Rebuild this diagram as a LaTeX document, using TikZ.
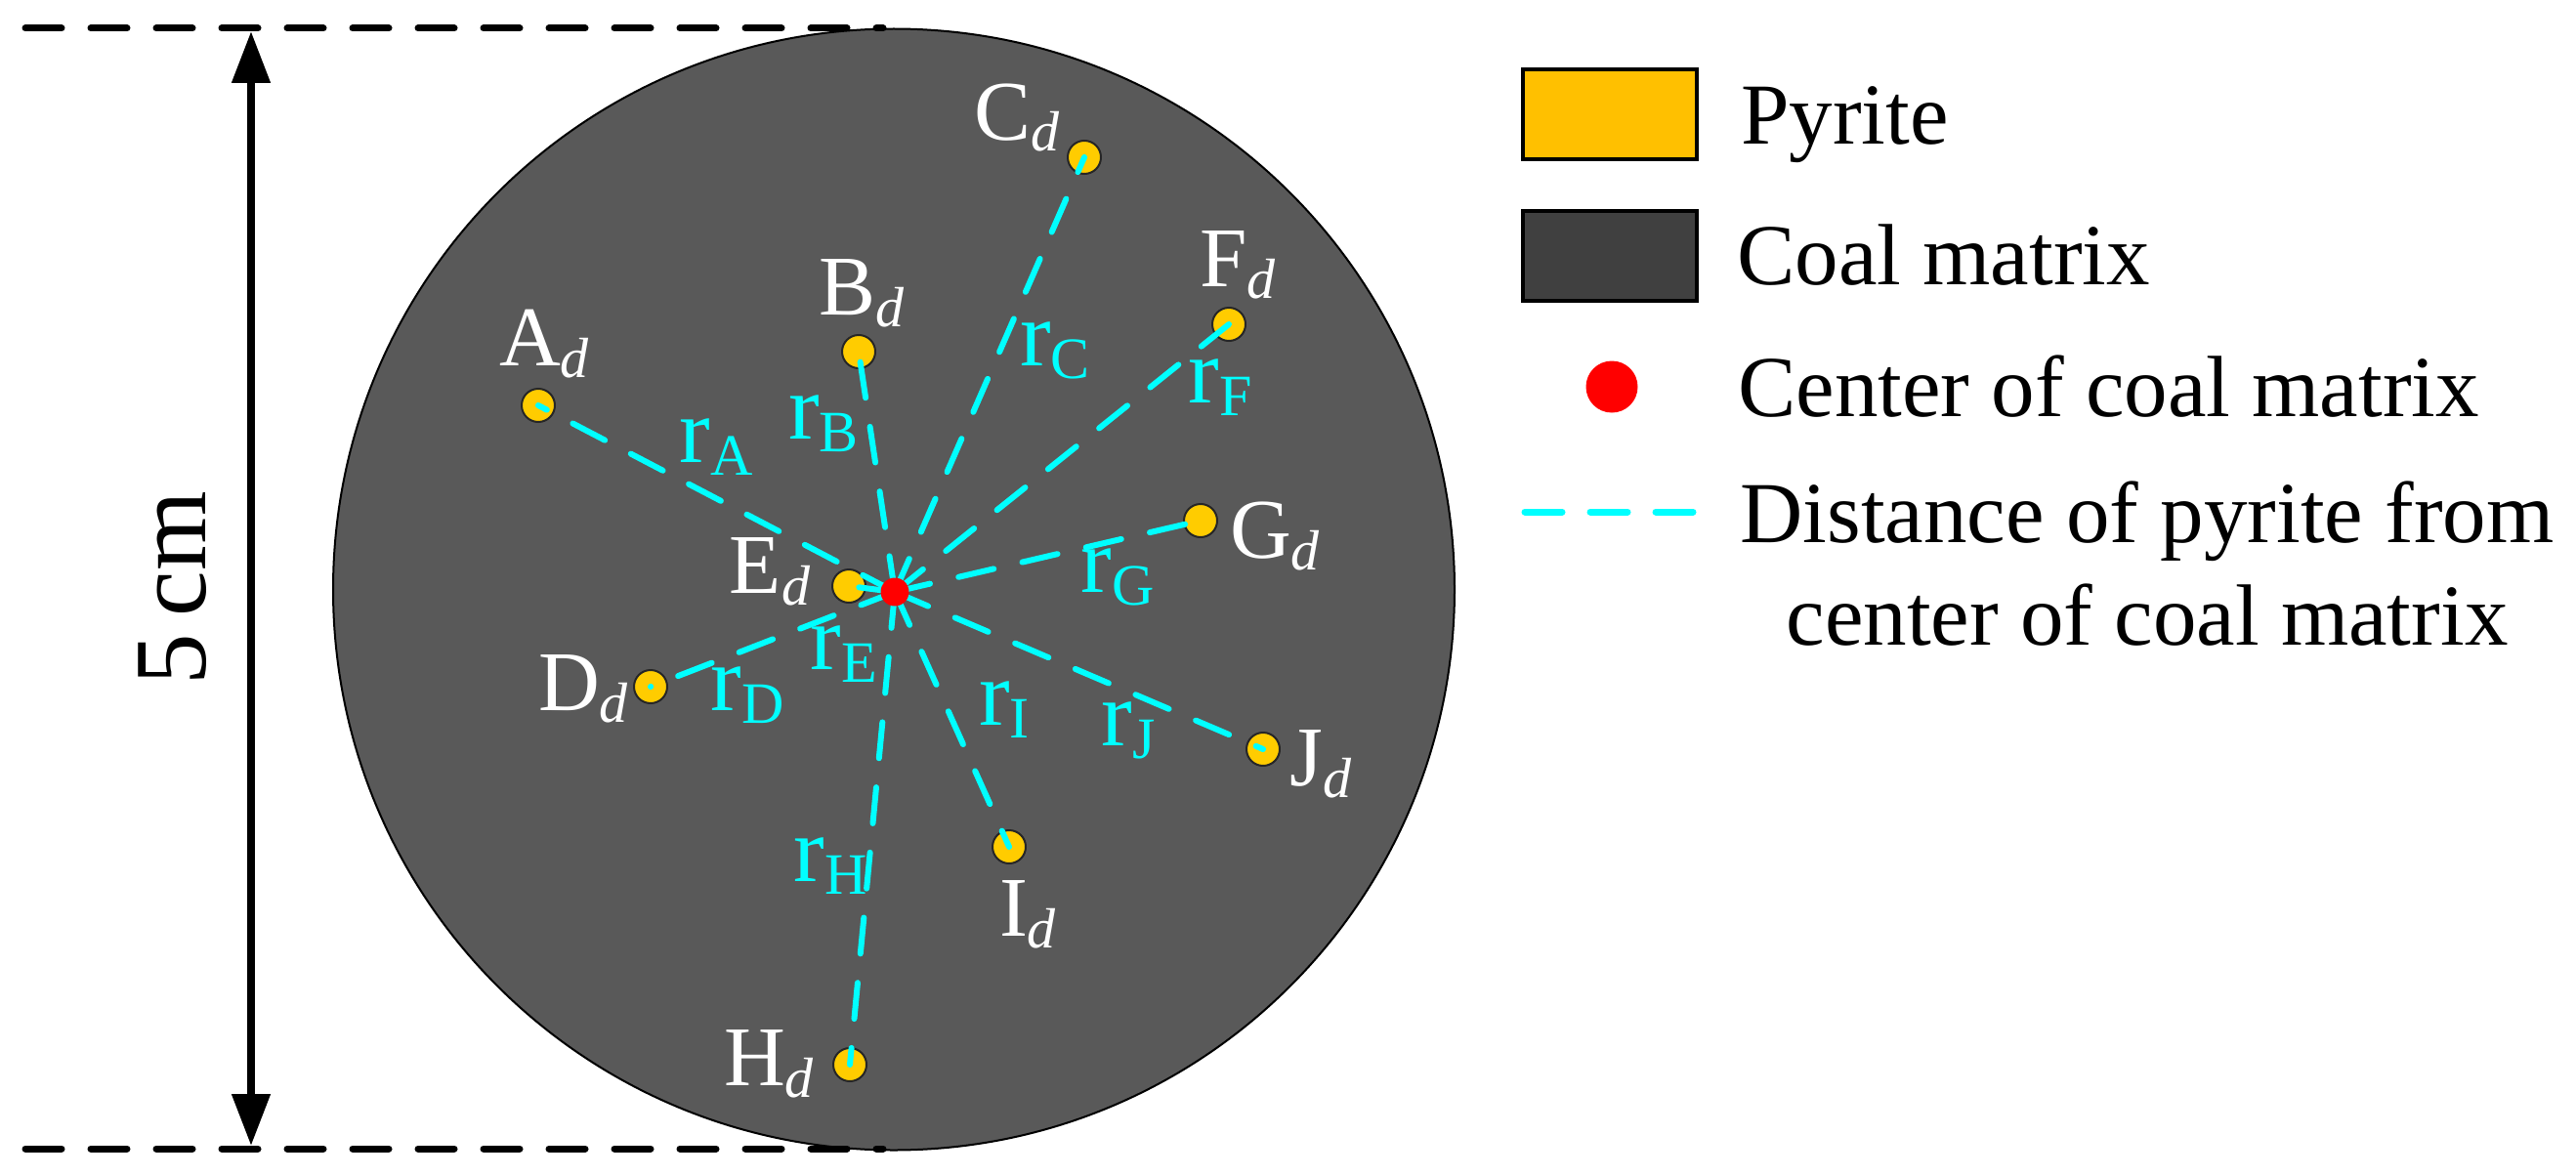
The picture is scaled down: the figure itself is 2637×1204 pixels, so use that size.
\documentclass[tikz,border=0pt]{standalone}
\usepackage{fontspec}
\setmainfont{Liberation Serif}
\usetikzlibrary{arrows.meta}
\definecolor{coal}{HTML}{595959}
\definecolor{coalleg}{HTML}{404040}
\definecolor{pyr}{HTML}{FFCC00}
\definecolor{pyrleg}{HTML}{FFC000}
\definecolor{cy}{HTML}{00FFFF}
\newcommand{\pyrlab}[1]{{\fontsize{87}{87}\selectfont #1}\raisebox{-12pt}{\fontsize{58}{58}\selectfont\itshape d}}
\newcommand{\rlab}[1]{{\fontsize{95}{95}\selectfont r}\raisebox{-13pt}{\fontsize{60}{60}\selectfont #1}}
\begin{document}
\begin{tikzpicture}[x=1pt,y=-1pt,
 pdot/.style={circle,fill=pyr,draw=black!85,line width=2pt,minimum size=34pt,inner sep=0},
 cdot/.style={circle,fill=red,inner sep=0,minimum size=29pt},
 rline/.style={cy,line width=6pt,line cap=round,dash pattern=on 37pt off 30pt},
 plab/.style={text=white,inner sep=0,anchor=base},
 rl/.style={text=cy,inner sep=0,anchor=base},
 legtext/.style={inner sep=0,anchor=base west,font=\fontsize{89}{89}\selectfont},
 legbox/.style={draw=black,line width=4pt,minimum width=178pt,minimum height=92pt,inner sep=0},
 dimline/.style={line width=7pt,line cap=round,dash pattern=on 37pt off 30pt}]

\useasboundingbox (0,0) rectangle (2637,1204);
\fill[white] (0,0) rectangle (2637,1204);

% coal matrix
\draw[fill=coal,line width=2pt] (915,603.5) circle[radius=574];

% pyrite particles
\node[pdot] (A) at (551,415) {};
\node[pdot] (B) at (879,360) {};
\node[pdot] (C) at (1110,161) {};
\node[pdot] (F) at (1258,332) {};
\node[pdot] (G) at (1229,533) {};
\node[pdot] (E) at (869,600) {};
\node[pdot] (D) at (666,703) {};
\node[pdot] (J) at (1293,767) {};
\node[pdot] (I) at (1033,867) {};
\node[pdot] (H) at (870,1090) {};

\coordinate (O) at (916,606);
\foreach \p in {A,B,C,D,E,F,G,H,I,J}{
  \draw[rline] (O) -- (\p.center);
}
\node[cdot] (Oc) at (O) {};

% pyrite labels
\node[plab] (lA) at (557,374) {\pyrlab{A}};
\node[plab] (lB) at (882,322) {\pyrlab{B}};
\node[plab] (lC) at (1041,143) {\pyrlab{C}};
\node[plab] (lF) at (1267,293) {\pyrlab{F}};
\node[plab] (lG) at (1305,571) {\pyrlab{G}};
\node[plab] (lE) at (788,607) {\pyrlab{E}};
\node[plab] (lD) at (597,727) {\pyrlab{D}};
\node[plab] (lJ) at (1352,804) {\pyrlab{J}};
\node[plab] (lI) at (1052,958) {\pyrlab{I}};
\node[plab] (lH) at (787,1111) {\pyrlab{H}};

% distance labels
\node[rl] (rA) at (733,473) {\rlab{A}};
\node[rl] (rB) at (843,449) {\rlab{B}};
\node[rl] (rC) at (1080,374) {\rlab{C}};
\node[rl] (rF) at (1249,412) {\rlab{F}};
\node[rl] (rG) at (1144,606) {\rlab{G}};
\node[rl] (rE) at (864,685) {\rlab{E}};
\node[rl] (rD) at (765,727) {\rlab{D}};
\node[rl] (rI) at (1028,742) {\rlab{I}};
\node[rl] (rJ) at (1155,763) {\rlab{J}};
\node[rl] (rH) at (850,902) {\rlab{H}};

% dimension
\coordinate (t1) at (26,29);
\coordinate (t2) at (904,29);
\coordinate (b1) at (26,1176);
\coordinate (b2) at (904,1176);
\draw[dimline] (t1) -- (t2);
\draw[dimline] (b1) -- (b2);
\coordinate (at) at (257,32);
\coordinate (ab) at (257,1173);
\draw[line width=8pt,{Triangle[length=53pt,width=38pt]}-{Triangle[length=53pt,width=38pt]}] (at) -- (ab);
\node[rotate=90,anchor=base,inner sep=0,font=\fontsize{105}{105}\selectfont] (dim) at (210,602) {5\,cm};

% legend
\node[legbox,fill=pyrleg] (lp) at (1648,117) {};
\node[legtext] (tp) at (1782,148) {Pyrite};
\node[legbox,fill=coalleg] (lc) at (1648,262) {};
\node[legtext] (tc) at (1778,291) {Coal matrix};
\node[circle,fill=red,minimum size=53pt,inner sep=0] (lr) at (1650,396) {};
\node[legtext] (tcc) at (1779,426) {Center of coal matrix};
\coordinate (ld1) at (1561,524);
\coordinate (ld2) at (1733,524);
\draw[rline,line width=7pt,dash pattern=on 38pt off 29pt] (ld1) -- (ld2);
\node[legtext,anchor=base] (td1) at (2198,555) {Distance of pyrite from};
\node[legtext,anchor=base] (td2) at (2198,660) {center of coal matrix};
\end{tikzpicture}
\end{document}
